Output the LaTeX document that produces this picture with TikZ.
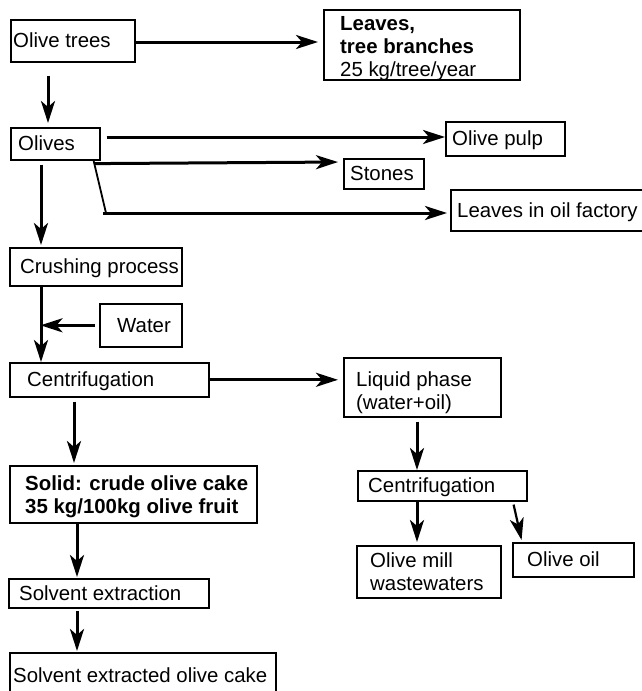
\documentclass[tikz,border=0pt]{standalone}
\usepackage{fontspec}
\setmainfont{Liberation Sans}
\usetikzlibrary{arrows.meta}
\begin{document}
\begin{tikzpicture}[x=1pt,y=-1pt,
  bx/.style={draw, line width=1.6pt, inner sep=0pt, anchor=north west},
  lbl/.style={anchor=base west, inner sep=0pt, yshift=-7pt, font=\fontsize{20.4}{23}\selectfont},
  mlbl/.style={anchor=west, inner sep=0pt, align=left, font=\fontsize{20.4}{23}\selectfont},
  arr/.style={line width=3pt, -{Stealth[length=22pt,width=14pt,inset=6pt]}},
  darr/.style={line width=2.2pt, -{Stealth[length=22pt,width=14pt,inset=6pt]}},
  thinl/.style={line width=1.8pt}]
\useasboundingbox (0,0) rectangle (641,691);

% boxes
\node[bx, minimum width=124pt, minimum height=42pt] (trees) at (10,19) {};
\node[lbl] (treesT) at ([xshift=3pt]trees.west) {Olive trees};

\node[bx, minimum width=196pt, minimum height=70pt] (leaves) at (323,9) {};
\node[mlbl, yshift=-3.5pt] (leavesT) at ([xshift=17pt]leaves.west) {\textbf{Leaves,}\\\textbf{tree branches}\\25 kg/tree/year};

\node[bx, minimum width=89pt, minimum height=32pt] (olives) at (10,127) {};
\node[lbl] (olivesT) at ([xshift=8pt]olives.west) {Olives};

\node[bx, minimum width=119pt, minimum height=34pt] (pulp) at (445,121) {};
\node[lbl] (pulpT) at ([xshift=7pt]pulp.west) {Olive pulp};

\node[bx, minimum width=80pt, minimum height=30pt] (stones) at (343,158) {};
\node[lbl] (stonesT) at ([xshift=7pt]stones.west) {Stones};

\node[bx, minimum width=193pt, minimum height=41pt] (lvoil) at (450,189) {};
\node[lbl] (lvoilT) at ([xshift=7pt]lvoil.west) {Leaves in oil factory};

\node[bx, minimum width=172pt, minimum height=38pt] (crush) at (9,247) {};
\node[lbl] (crushT) at ([xshift=11pt]crush.west) {Crushing process};

\node[bx, minimum width=82pt, minimum height=43pt] (water) at (99,303) {};
\node[lbl] (waterT) at ([xshift=18pt]water.west) {Water};

\node[bx, minimum width=199pt, minimum height=34pt] (cent) at (9,362) {};
\node[lbl] (centT) at ([xshift=18pt]cent.west) {Centrifugation};

\node[bx, minimum width=157pt, minimum height=59pt] (liquid) at (343,357) {};
\node[mlbl, yshift=-5pt] (liquidT) at ([xshift=13pt]liquid.west) {Liquid phase\\(water+oil)};

\node[bx, minimum width=169pt, minimum height=30pt] (cent2) at (357,470) {};
\node[lbl] (cent2T) at ([xshift=11pt]cent2.west) {Centrifugation};

\node[bx, minimum width=144pt, minimum height=52pt] (mill) at (356,545) {};
\node[mlbl] (millT) at ([xshift=14pt]mill.west) {Olive mill\\wastewaters};

\node[bx, minimum width=121pt, minimum height=34pt] (oil) at (512,542) {};
\node[lbl] (oilT) at ([xshift=15pt]oil.west) {Olive oil};

\node[bx, minimum width=247pt, minimum height=57pt] (solid) at (9,465) {};
\node[mlbl, yshift=-2pt] (solidT) at ([xshift=16pt]solid.west) {\textbf{Solid: crude olive cake}\\\textbf{35 kg/100kg olive fruit}};

\node[bx, minimum width=200pt, minimum height=29pt] (solvext) at (8,578) {};
\node[lbl] (solvextT) at ([xshift=11pt]solvext.west) {Solvent extraction};

\node[bx, minimum width=266pt, minimum height=45pt] (done) at (9,652) {};
\node[lbl] (doneT) at ([xshift=4pt]done.west) {Solvent extracted olive cake};

% connectors
\draw[arr, shorten >=5pt] (trees.east |- 0,42) -- (leaves.west |- 0,42);
\draw[arr, shorten <=13pt, shorten >=4pt] (48,0 |- trees.south) -- (48,0 |- olives.north);
\draw[arr, shorten <=6pt] (olives.east |- 0,137) -- (pulp.west |- 0,137);
\draw[arr, shorten >=5pt] ([shift={(-6,3)}]olives.south east) -- (stones.west |- 0,162);
\coordinate (bend) at (106,213);
\draw[thinl] ([xshift=-7pt]olives.south east) -- (bend);
\draw[arr, shorten >=3pt] ([xshift=-3pt]bend) -- (lvoil.west |- bend);
\draw[arr, shorten <=4pt, shorten >=2pt] (41,0 |- olives.south) -- (41,0 |- crush.north);
\draw[arr] (41,0 |- crush.south) -- (41,0 |- cent.north);
\draw[arr, shorten <=4pt, shorten >=-0.5pt] (water.west) -- (41,0 |- water.west);
\draw[arr, shorten >=5pt] (cent.east) -- (liquid.west |- cent.east);
\draw[arr, shorten <=4pt, shorten >=2pt] (74,0 |- cent.south) -- (74,0 |- solid.north);
\draw[arr, shorten >=1pt] (77,0 |- solid.south) -- (77,0 |- solvext.north);
\draw[arr, shorten <=2pt, shorten >=1pt] (77,0 |- solvext.south) -- (77,0 |- done.north);
\draw[arr, shorten <=4pt] (417,0 |- liquid.south) -- (417,0 |- cent2.north);
\draw[arr, shorten >=3pt] (417,0 |- cent2.south) -- (417,0 |- mill.north);
\draw[darr, shorten >=2pt] ([shift={(-14,3)}]cent2.south east) -- ([xshift=10pt]oil.north west);
\end{tikzpicture}
\end{document}
